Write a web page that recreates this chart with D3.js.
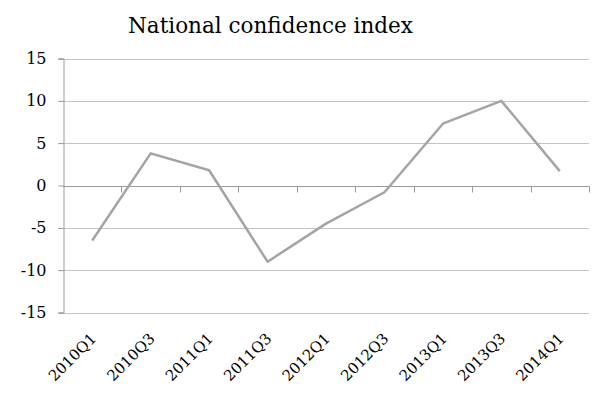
<!DOCTYPE html>
<html>
<head>
<meta charset="utf-8">
<script src="https://cdn.jsdelivr.net/npm/d3@7"></script>
<style>
  html, body { margin: 0; padding: 0; background: #fff; }
  svg { display: block; }
  text { font-family: "DejaVu Serif", "Liberation Serif", serif; fill: #000; }
</style>
</head>
<body>
<svg id="chart" width="593" height="394"></svg>
<script>
// Semi-annual readings of the national confidence index
const quarters = ["2010Q1", "2010Q3", "2011Q1", "2011Q3", "2012Q1", "2012Q3", "2013Q1", "2013Q3", "2014Q1"];
const indexValues = [-6.5, 3.8, 1.8, -9.0, -4.5, -0.8, 7.3, 10.0, 1.7];
const yTicks = [-15, -10, -5, 0, 5, 10, 15];
const chartTitle = "National confidence index";

const svg = d3.select("#chart");
const plot = { left: 63, right: 589, top: 58.5, bottom: 312.5 };

const x = d3.scaleBand().domain(quarters).range([plot.left, plot.right]).paddingInner(0).paddingOuter(0);
const y = d3.scaleLinear().domain([-15, 15]).range([plot.bottom, plot.top]);

// Horizontal gridlines
svg.append("g")
  .selectAll("line")
  .data(yTicks.filter(t => t !== 0))
  .join("line")
  .attr("x1", plot.left - 5).attr("x2", plot.right)
  .attr("y1", d => Math.round(y(d)) + 0.5).attr("y2", d => Math.round(y(d)) + 0.5)
  .attr("stroke", "#c4c4c4").attr("stroke-width", 1);

// Value axis
const yAxis = svg.append("g")
  .attr("transform", `translate(${plot.left + 0.5},0)`)
  .call(d3.axisLeft(y).tickValues(yTicks).tickSize(5).tickPadding(12).tickFormat(d3.format("d")))
  .attr("font-size", 16)
  .attr("font-family", "DejaVu Serif, serif");
yAxis.select(".domain").attr("stroke", "#9a9a9a");
yAxis.selectAll(".tick line").attr("stroke", "#9a9a9a");
yAxis.selectAll(".tick text")
  .attr("fill", "#000")
  .text(d => d < 0 ? "-" + Math.abs(d) : d);

// Category axis along the zero line
const zeroY = Math.round(y(0)) + 0.5;
const catAxis = svg.append("g").attr("transform", `translate(0,${zeroY})`);
catAxis.append("line")
  .attr("x1", plot.left).attr("x2", plot.right)
  .attr("stroke", "#9a9a9a");
catAxis.selectAll("line.tk")
  .data(quarters)
  .join("line")
  .attr("class", "tk")
  .attr("x1", d => Math.round(x(d) + x.bandwidth()) + 0.5)
  .attr("x2", d => Math.round(x(d) + x.bandwidth()) + 0.5)
  .attr("y1", 0).attr("y2", 6)
  .attr("stroke", "#9a9a9a");

// Rotated category labels below the plot
svg.append("g")
  .selectAll("text")
  .data(quarters)
  .join("text")
  .attr("transform", d => `translate(${x(d) + x.bandwidth() / 2 + 5},${plot.bottom + 27}) rotate(-45)`)
  .attr("text-anchor", "end")
  .attr("font-size", 15)
  .text(d => d);

// Index line
const line = d3.line()
  .x((d, i) => x(quarters[i]) + x.bandwidth() / 2)
  .y(d => y(d));
svg.append("path")
  .datum(indexValues)
  .attr("d", line)
  .attr("fill", "none")
  .attr("stroke", "#a4a4a4")
  .attr("stroke-width", 2.5)
  .attr("stroke-linejoin", "round");

// Title
svg.append("text")
  .attr("x", 270.5).attr("y", 32.5)
  .attr("text-anchor", "middle")
  .attr("font-size", 21.5)
  .text(chartTitle);
</script>
</body>
</html>
